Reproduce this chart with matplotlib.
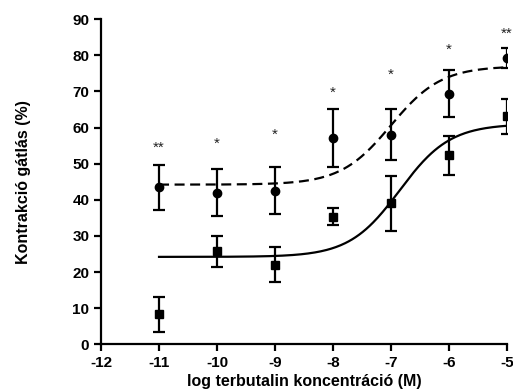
import numpy as np
import matplotlib.pyplot as plt

plt.rcParams['font.family'] = ['Liberation Sans', 'DejaVu Sans']
plt.rcParams['axes.unicode_minus'] = False

# measured points (log M)
log_conc = [-11, -10, -9, -8, -7, -6, -5]

circle_mean = [43.5, 42.0, 42.5, 57.0, 58.0, 69.2, 79.2]
circle_lo = [37.2, 35.6, 36.0, 49.0, 51.0, 63.0, 76.5]
circle_hi = [49.5, 48.5, 49.0, 65.0, 65.0, 75.8, 82.0]

square_mean = [8.3, 25.7, 22.0, 35.3, 39.0, 52.3, 63.2]
square_lo = [3.5, 21.3, 17.2, 33.0, 31.5, 47.0, 58.2]
square_hi = [13.0, 30.0, 27.0, 37.6, 46.7, 57.6, 68.0]

stars = ['**', '*', '*', '*', '*', '*', '**']
star_y = [54.5, 55.5, 58.0, 69.5, 74.5, 81.5, 86.0]

# sigmoid fit parameters: bottom, top, logEC50
fit_dashed = (44.2, 77.0, -7.0)
fit_solid = (24.2, 61.0, -6.85)


def sigmoid(x, p):
    bottom, top, ec50 = p
    return bottom + (top - bottom) / (1 + 10 ** (ec50 - x))


fig = plt.figure(figsize=(5.13, 3.91), dpi=100)
ax = fig.add_axes([0.197, 0.1194, 0.791, 0.8316])

xs = np.linspace(-11, -5, 300)
ax.plot(xs, sigmoid(xs, fit_dashed), '--', color='black', lw=1.6, dashes=(4.5, 2.5))
ax.plot(xs, sigmoid(xs, fit_solid), '-', color='black', lw=1.6)

cm = np.array(circle_mean)
ax.errorbar(log_conc, cm, yerr=[cm - np.array(circle_lo), np.array(circle_hi) - cm],
            fmt='o', color='black', ms=6, elinewidth=1.6, capsize=4, capthick=1.6)
sm = np.array(square_mean)
ax.errorbar(log_conc, sm, yerr=[sm - np.array(square_lo), np.array(square_hi) - sm],
            fmt='s', color='black', ms=6, elinewidth=1.6, capsize=4, capthick=1.6)

for x, s, y in zip(log_conc, stars, star_y):
    ax.text(x, y, s, ha='center', va='center', fontsize=11, color='#222222')

ax.set_xlim(-12, -5)
ax.set_ylim(0, 90)
ax.set_xticks(range(-12, -4))
ax.set_yticks(range(0, 91, 10))
for sp in ['top', 'right']:
    ax.spines[sp].set_visible(False)
for sp in ['left', 'bottom']:
    ax.spines[sp].set_linewidth(1.6)
ax.tick_params(width=1.6, length=5, labelsize=11)
for lab in ax.get_xticklabels() + ax.get_yticklabels():
    lab.set_fontweight('bold')

ax.set_xlabel('log terbutalin koncentráció (M)', fontsize=11.5, fontweight='bold', labelpad=3)
ax.set_ylabel('Kontrakció gátlás (%)', fontsize=11.5, fontweight='bold', labelpad=30)

fig.savefig('out.png', dpi=100)
